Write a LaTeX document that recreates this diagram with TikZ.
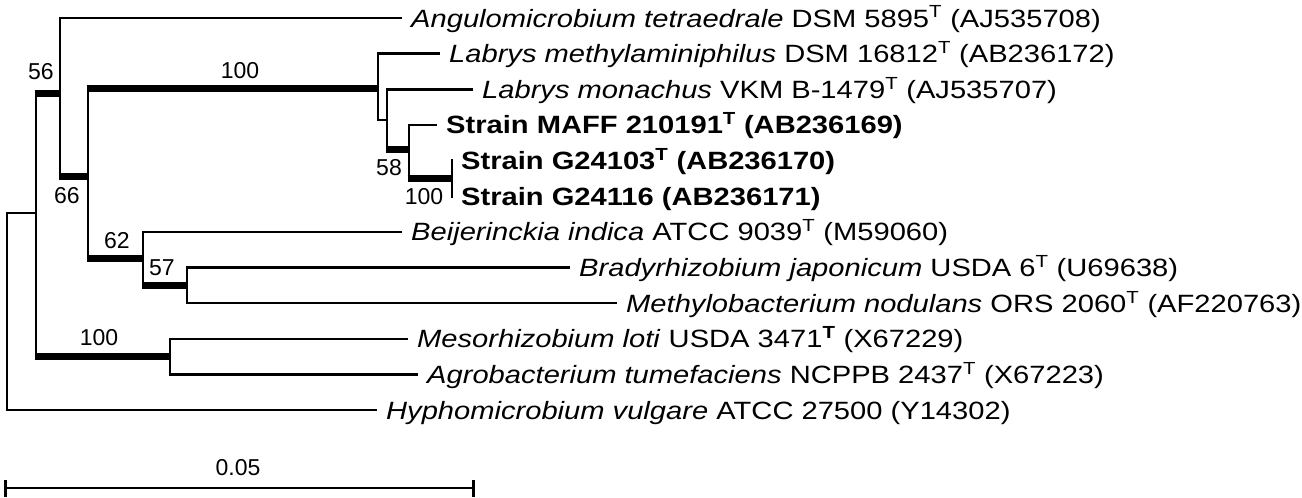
\documentclass[tikz,border=0pt]{standalone}
\usepackage{fontspec}
\setmainfont{Liberation Sans}
\newfontfamily\tipfont{Liberation Sans}[FakeStretch=1.165]
\usetikzlibrary{arrows.meta,calc}

\begin{document}
\begin{tikzpicture}[x=1pt,y=-1pt,
tip/.style={anchor=west,inner xsep=9pt,inner ysep=0pt,text height=18pt,text depth=0pt,font=\tipfont\fontsize{25}{30}\selectfont},
bs/.style={inner sep=0pt,font=\fontsize{23}{28}\selectfont},
br/.style={line width=2.6pt},
vt/.style={line width=2.6pt,line cap=rect},
hv/.style={line width=7pt,shorten <=-1.3pt}]
\useasboundingbox (0,0) rectangle (1302,498);
\node[tip](ang) at (402,18){\textit{Angulomicrobium tetraedrale} DSM 5895\textsuperscript{T} (AJ535708)};
\node[tip](lmet) at (440,53.6){\textit{Labrys methylaminiphilus} DSM 16812\textsuperscript{T} (AB236172)};
\node[tip](lmon) at (473,89.3){\textit{Labrys monachus} VKM B-1479\textsuperscript{T} (AJ535707)};
\node[tip](maff) at (437,124.9){\textbf{Strain MAFF 210191\textsuperscript{T} (AB236169)}};
\node[tip](g103) at (452,160.6){\textbf{Strain G24103\textsuperscript{T} (AB236170)}};
\node[tip](g116) at (452,196.2){\textbf{Strain G24116 (AB236171)}};
\node[tip](beij) at (402,231.8){\textit{Beijerinckia indica} ATCC 9039\textsuperscript{T} (M59060)};
\node[tip](brad) at (570,267.5){\textit{Bradyrhizobium japonicum} USDA 6\textsuperscript{T} (U69638)};
\node[tip](mnod) at (617,303.1){\textit{Methylobacterium nodulans} ORS 2060\textsuperscript{T} (AF220763)};
\node[tip](meso) at (408,338.8){\textit{Mesorhizobium loti} USDA 3471\textsuperscript{\textbf{T}} (X67229)};
\node[tip](agro) at (418,374.4){\textit{Agrobacterium tumefaciens} NCPPB 2437\textsuperscript{T} (X67223)};
\node[tip](hyph) at (377,410){\textit{Hyphomicrobium vulgare} ATCC 27500 (Y14302)};
\coordinate(root) at (7,213);
\coordinate(nA) at (36,213);
\coordinate(nB) at (60,93);
\coordinate(nC) at (88,176);
\coordinate(nD) at (378,88);
\coordinate(nE) at (387,120);
\coordinate(nF) at (409,149);
\coordinate(nG) at (452,178);
\coordinate(nH) at (143,258);
\coordinate(nI) at (187,285);
\coordinate(nJ) at (170,356);
\draw[vt](root)--(root |- hyph);\draw[vt](nA |- nB)--(nA |- nJ);
\draw[vt](nB |- ang)--(nB |- nC);\draw[vt](nC |- nD)--(nC |- nH);
\draw[vt](nD |- lmet)--(nD |- nE);\draw[vt](nE |- lmon)--(nE |- nF);
\draw[vt](nF |- maff)--(nF |- nG);\draw[vt](nG |- g103)--(nG |- g116);
\draw[vt](nH |- beij)--(nH |- nI);\draw[vt](nI |- brad)--(nI |- mnod);
\draw[vt](nJ |- meso)--(nJ |- agro);
\draw[br](root)--(nA);\draw[br](root |- hyph)--(hyph.west);
\draw[hv](nA |- nB)--(nB);\draw[hv](nA |- nJ)--(nJ);
\draw[br](nB |- ang)--(ang.west);\draw[hv](nB |- nC)--(nC);
\draw[hv](nC |- nD)--(nD);\draw[hv](nC |- nH)--(nH);
\draw[br](nD |- lmet)--(lmet.west);\draw[br](nD |- nE)--(nE);
\draw[br](nE |- lmon)--(lmon.west);\draw[hv](nE |- nF)--(nF);
\draw[br](nF |- maff)--(maff.west);\draw[hv](nF |- nG)--(nG);
\draw[br](nH |- beij)--(beij.west);\draw[hv](nH |- nI)--(nI);
\draw[br](nI |- brad)--(brad.west);\draw[br](nI |- mnod)--(mnod.west);
\draw[br](nJ |- meso)--(meso.west);\draw[br](nJ |- agro)--(agro.west);
\node[bs](b56) at (41,72){56};
\node[bs](b66) at (67,196){66};
\node[bs](bD) at (240,71){100};
\node[bs](b58) at (389,168){58};
\node[bs](bG) at (424,197){100};
\node[bs](b62) at (117,241){62};
\node[bs](b57) at (162,268){57};
\node[bs](bJ) at (99,338){100};
\coordinate(sbl) at (4,488);
\coordinate(sbr) at (475,488);
\draw[br,{Bar[width=17pt]}-{Bar[width=17pt]}](sbl)--(sbr);
\node[bs](scale) at (238,468){0.05};
\end{tikzpicture}
\end{document}
